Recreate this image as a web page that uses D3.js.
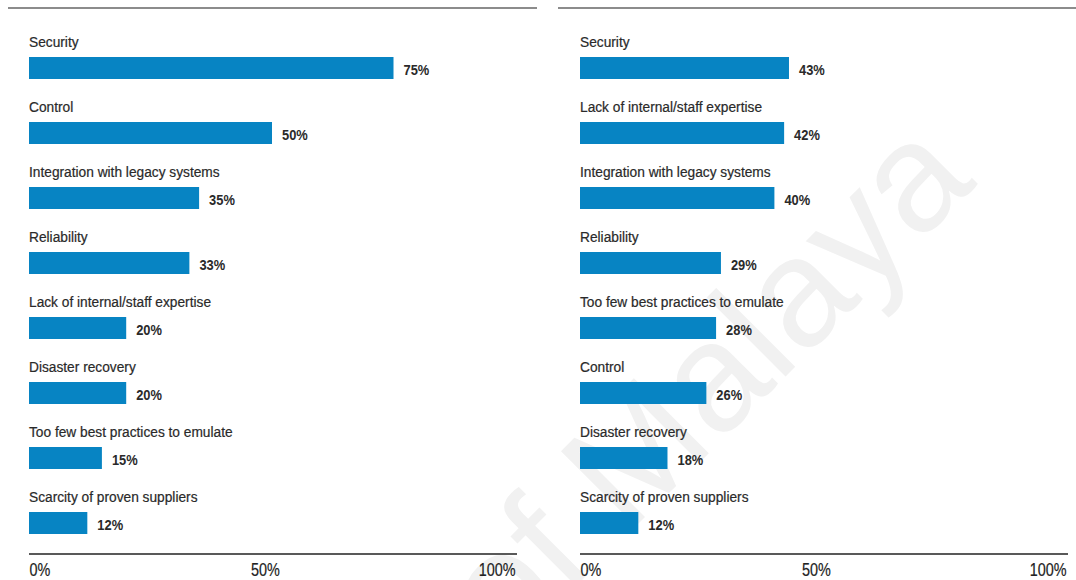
<!DOCTYPE html>
<html>
<head>
<meta charset="utf-8">
<script src="https://cdn.jsdelivr.net/npm/d3@7"></script>
<style>
  html, body { margin: 0; padding: 0; background: #fff; }
  svg { display: block; }
  text { font-family: "Liberation Sans", Arial, sans-serif; }
  .cat { font-size: 14px; fill: #2a2a2a; stroke: #2a2a2a; stroke-width: 0.2px; }
  .val { font-size: 14px; font-weight: bold; fill: #2a2a2a; }
  .tick text { font-size: 18px; fill: #222; stroke: #222; stroke-width: 0.2px; }
</style>
</head>
<body>
<svg id="chart" width="1076" height="580"></svg>
<script>
// Left panel: concerns ranked
const leftCategories = [
  "Security", "Control", "Integration with legacy systems", "Reliability",
  "Lack of internal/staff expertise", "Disaster recovery",
  "Too few best practices to emulate", "Scarcity of proven suppliers"
];
const leftValues = [75, 50, 35, 33, 20, 20, 15, 12];

// Right panel: concerns ranked
const rightCategories = [
  "Security", "Lack of internal/staff expertise", "Integration with legacy systems",
  "Reliability", "Too few best practices to emulate", "Control",
  "Disaster recovery", "Scarcity of proven suppliers"
];
const rightValues = [43, 42, 40, 29, 28, 26, 18, 12];

const tickValues = [0, 50, 100];
const tickLabels = ["0%", "50%", "100%"];

const svg = d3.select("#chart");
const barColor = "#0784c3";

// squeeze text horizontally to mimic a condensed face
function condense(sel, k) {
  sel.each(function () {
    const w = this.getComputedTextLength();
    d3.select(this).attr("textLength", w * k).attr("lengthAdjust", "spacingAndGlyphs");
  });
}

// faint background watermark
svg.append("text")
  .attr("transform", "translate(978,184) rotate(-45)")
  .attr("text-anchor", "end")
  .style("font-size", "154px")
  .style("fill", "#f1f1f1")
  .text("University of Malaya");

function panel(cfg) {
  const g = svg.append("g");
  const x = d3.scaleLinear().domain([0, 100]).range([cfg.x0, cfg.x1]);
  const y = d3.scaleBand()
    .domain(d3.range(cfg.categories.length))
    .range([57, 534])
    .paddingInner(43 / 65)
    .paddingOuter(0);

  // top rule
  g.append("line")
    .attr("x1", cfg.ruleX0).attr("x2", cfg.ruleX1)
    .attr("y1", 8).attr("y2", 8)
    .attr("stroke", "#666").attr("stroke-width", 1.5);

  const rows = g.selectAll(".row")
    .data(cfg.categories.map((c, i) => ({ c, v: cfg.values[i], i })))
    .join("g").attr("class", "row");

  rows.append("text")
    .attr("class", "cat")
    .attr("x", x(0))
    .attr("y", d => y(d.i) - 10)
    .text(d => d.c)
    .call(condense, 0.98);

  rows.append("rect")
    .attr("x", x(0))
    .attr("y", d => y(d.i))
    .attr("width", d => x(d.v) - x(0))
    .attr("height", y.bandwidth())
    .attr("fill", barColor);

  rows.append("text")
    .attr("class", "val")
    .attr("x", d => x(d.v) + 10)
    .attr("y", d => y(d.i) + 18)
    .text(d => d.v + "%")
    .call(condense, 0.92);

  // bottom axis
  const axis = d3.axisBottom(x)
    .tickValues(tickValues)
    .tickFormat((d, i) => tickLabels[i])
    .tickSize(0)
    .tickSizeOuter(0)
    .tickPadding(4);

  const ag = g.append("g")
    .attr("transform", "translate(0,554)")
    .call(axis);
  ag.select(".domain")
    .attr("d", `M${cfg.x0},0H${cfg.x1 + 2}`)
    .attr("stroke", "#222").attr("stroke-width", 1.5);
  ag.selectAll(".tick text")
    .attr("y", 21.5)
    .attr("dy", null)
    .attr("font-family", null)
    .attr("font-size", null)
    .attr("text-anchor", (d, i) => i === 0 ? "start" : (i === tickValues.length - 1 ? "end" : "middle"))
    .attr("dx", (d, i) => i === 1 ? -7 : 0)
    .call(condense, 0.8);
}

panel({ categories: leftCategories, values: leftValues, x0: 29, x1: 515, ruleX0: 8, ruleX1: 537 });
panel({ categories: rightCategories, values: rightValues, x0: 580, x1: 1066, ruleX0: 558, ruleX1: 1076 });
</script>
</body>
</html>
